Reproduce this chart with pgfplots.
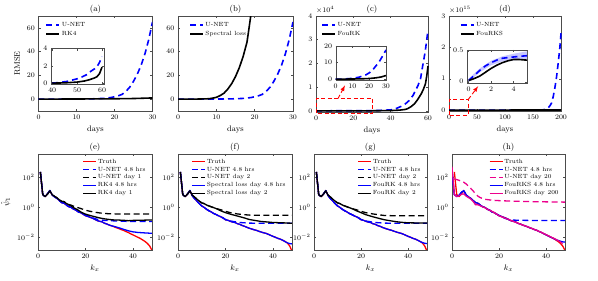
\documentclass[border=0pt]{standalone}
\usepackage{pgfplots}
\pgfplotsset{compat=1.18}
\pgfplotsset{legend image code/.code={\draw[#1] (0pt,0pt) -- (13pt,0pt);}}
\tikzset{rdash/.style={red, line width=0.9pt, dash pattern=on 4pt off 2.5pt}}
\pgfplotsset{
  base/.style={
    scale only axis, anchor=south west, no markers,
    axis line style={black!70, line width=0.4pt},
    tick style={black!70, line width=0.4pt},
    major tick length=2.2pt,
    tick align=inside,
    ticklabel style={font=\fontsize{7.5}{8}\selectfont},
    label style={font=\fontsize{8}{9}\selectfont},
    title style={font=\fontsize{8.5}{9}\selectfont, at={(0.5,1)}, anchor=south, yshift=-4pt, inner sep=0pt},
    legend cell align=left,
    scaled ticks=false,
    every axis plot/.append style={line join=round},
  },
  tleg/.style={legend style={at={(#1,1)}, anchor=north west, yshift=-2.5pt, draw=none, fill=none,
      font=\fontsize{6}{6}\selectfont, row sep=0pt,
      nodes={inner sep=1.6pt, text height=4.3pt, text depth=1.2pt}}},
  bleg/.style={legend style={at={(1,1)}, anchor=north east, xshift=-2pt, yshift=-1.5pt, draw=none, fill=none,
      font=\fontsize{6}{6}\selectfont, row sep=0pt,
      nodes={inner sep=1.2pt, text height=4.3pt, text depth=1.2pt}}},
  inset/.style={base, axis background/.style={fill=white}},
  topax/.style={base, width=#1pt, height=95pt, xlabel={days}},
  specax/.style={base, xmin=0, xmax=48, ymin=1.5e-3, ymax=3.5e3,
      xtick={0,20,40}, ytick={1e-2,1,1e2}, yminorticks=false,
      width=114pt, height=96pt, xlabel={$k_x$}, bleg},
  tun/.style={blue, line width=1.6pt, dash pattern=on 6pt off 4pt},
  tbk/.style={black, line width=1.6pt},
  str/.style={red, line width=1.3pt},
  sund/.style={blue, line width=1.3pt, dash pattern=on 6pt off 3.5pt},
  sbkd/.style={black, line width=1.3pt, dash pattern=on 6pt off 3.5pt},
  sbl/.style={blue, line width=1.3pt},
  sbk/.style={black, line width=1.3pt},
  smgd/.style={magenta, line width=1.3pt, dash pattern=on 6pt off 3.5pt},
  smg/.style={magenta, line width=1.3pt},
}
\begin{document}
\begin{tikzpicture}
\path[use as bounding box] (0pt,0pt) rectangle (598pt,281pt);

% ---------------- (a)
\begin{axis}[topax=114, at={(38.5pt,170pt)}, title={(a)}, ylabel={RMSE},
  xmin=0, xmax=30, ymin=-10, ymax=70, xtick={0,10,20,30}, ytick={0,20,40,60}, tleg=0.035]
\addplot[tun] coordinates {(0,0)(5,0)(10,0.05)(15,0.3)(17,0.6)(19,1.3)(20,2)(21,2.8)(22,4)(23,6.5)(24,10)(25,15)(26,21)(27,28.5)(28,38)(29,50)(30,65)};
\addlegendentry{U-NET}
\addplot[tbk] coordinates {(0,0)(10,0.1)(20,0.3)(25,0.5)(30,1.0)};
\addlegendentry{RK4}
\end{axis}
\begin{axis}[inset, at={(51pt,197pt)}, width=53.5pt, height=35.5pt,
  xmin=39.5, xmax=61, ymin=-0.1, ymax=4, xtick={40,50,60}, ytick={0,2,4}]
\addplot[tun] coordinates {(40,0)(43,0.08)(46,0.2)(48,0.35)(50,0.5)(52,0.72)(54,1.0)(55.3,1.33)(57,1.65)(58,1.9)(59,2.4)(60,3.05)};
\addplot[tbk] coordinates {(40,0)(45,0.03)(50,0.12)(53,0.25)(55,0.4)(57,0.6)(58,0.75)(59,1.1)(60,1.85)};
\node[anchor=south west, inner sep=0pt, font=\fontsize{7}{8}\selectfont] at (rel axis cs:0,1) [yshift=1.5pt] {$\times10^{4}$};
\end{axis}

% ---------------- (b)
\begin{axis}[topax=115, at={(178pt,170pt)}, title={(b)},
  xmin=0, xmax=30, ymin=-10, ymax=70, xtick={0,10,20,30}, ytick={0,20,40,60}, tleg=0.07]
\addplot[tun] coordinates {(0,0)(5,0)(10,0.05)(15,0.3)(17,0.6)(19,1.3)(20,2)(21,2.8)(22,4)(23,6.5)(24,10)(25,15)(26,21)(27,28.5)(28,38)(29,50)(30,65)};
\addlegendentry{U-NET}
\addplot[tbk] coordinates {(0,0)(5,0.05)(8,0.3)(9,0.8)(10,1.5)(11,3)(12,5)(13,8.5)(14,13)(15,19)(16,26.5)(17,36)(18,48)(18.8,66)(19.4,80)};
\addlegendentry{Spectral loss}
\end{axis}

% ---------------- (c)
\begin{axis}[topax=112, at={(316pt,169pt)}, height=96pt, title={(c)}, clip=false,
  xmin=0, xmax=60, ymin=-0.05, ymax=4, xtick={0,20,40,60}, ytick={0,1,2,3,4}, tleg=0.02]
\addplot[tun] coordinates {(0,0)(30,0.002)(40,0.04)(43,0.1)(46,0.2)(48,0.3)(50,0.44)(52,0.65)(54.6,1.06)(56,1.35)(57.3,1.96)(58.5,2.5)(60,3.4)};
\addlegendentry{U-NET}
\addplot[tbk] coordinates {(0,0)(30,0.0002)(40,0.01)(45,0.03)(48,0.06)(49.3,0.1)(51,0.18)(52.8,0.3)(54.5,0.48)(56.4,0.72)(57.5,0.9)(58.6,1.13)(59.3,1.45)(60,1.89)};
\addlegendentry{FouRK}
\draw[rdash] (axis cs:0.3,-0.1) rectangle (axis cs:30.5,0.52);
\draw[rdash,-latex] (axis cs:11.8,0.52) -- (axis cs:15.5,1.07);
\node[anchor=south west, inner sep=0pt, font=\fontsize{7}{8}\selectfont] at (rel axis cs:0,1) [yshift=2pt] {$\times10^{4}$};
\end{axis}
\begin{axis}[inset, at={(335.7pt,201pt)}, width=50.3pt, height=34pt,
  xmin=0, xmax=30, ymin=-0.5, ymax=20, xtick={0,10,20,30}, ytick={0,10,20}]
\addplot[tun] coordinates {(0,0)(5,0.1)(10,0.5)(14,1.2)(18,2.6)(20,3.8)(22,5.5)(24,8)(26,10.6)(28,14)(30,17.6)};
\addplot[tbk] coordinates {(0,0)(10,0.1)(15,0.2)(20,0.4)(24,0.8)(27,1.3)(30,2.2)};
\end{axis}

% ---------------- (d)
\begin{axis}[topax=112, at={(449pt,170pt)}, title={(d)}, clip=false,
  xmin=0, xmax=200, ymin=-0.03, ymax=3, xtick={0,50,100,150,200}, ytick={0,1,2,3}, tleg=0.07]
\addplot[tun] coordinates {(0,0)(100,0)(165,0)(172,0.02)(177,0.07)(180,0.13)(183,0.22)(186,0.42)(189,0.7)(192,1.05)(195,1.5)(198,2.0)(200,2.45)};
\addlegendentry{U-NET}
\addplot[tbk] coordinates {(0,0)(100,0)(200,0.002)};
\addlegendentry{FouRKS}
\draw[rdash] (axis cs:0.5,-0.16) rectangle (axis cs:34.5,0.34);
\draw[rdash,-latex] (axis cs:34.5,0.34) -- (axis cs:52,0.76);
\node[anchor=south west, inner sep=0pt, font=\fontsize{7}{8}\selectfont] at (rel axis cs:0,1) [yshift=2pt] {$\times10^{15}$};
\end{axis}
\begin{axis}[inset, at={(467pt,198pt)}, width=60pt, height=33pt,
  xmin=-0.15, xmax=5.2, ymin=-0.02, ymax=0.5, xtick={0,2,4}, ytick={0,0.5}]
\addplot[fill=blue!22, draw=none] coordinates {(0,0.05)(1,0.21)(2,0.33)(3,0.4)(4,0.44)(5.2,0.48)(5.2,0.35)(4,0.34)(3,0.32)(2,0.26)(1,0.15)(0,0.0)} --cycle;
\addplot[tun] coordinates {(0,0.02)(0.5,0.1)(1,0.18)(1.5,0.25)(2,0.3)(2.5,0.34)(3,0.37)(3.5,0.38)(4,0.39)(4.5,0.4)(5.2,0.41)};
\addplot[tbk] coordinates {(0,0.02)(0.5,0.05)(1,0.09)(1.5,0.15)(2,0.21)(2.5,0.26)(3,0.3)(3.5,0.33)(4,0.35)(4.5,0.35)(5.2,0.34)};
\end{axis}

% ---------------- (e)
\begin{semilogyaxis}[specax, at={(38pt,31pt)}, title={(e)}, ylabel={$\hat{\psi}_1$}]
\addplot[str] coordinates {(1,224)(2,7.08)(3,5.25)(4,7.94)(5,13.2)(6,6.61)(7,5.01)(8,3.98)(9,2.82)(10,2.09)(11,1.91)(12,1.41)(13,1.12)(14,1.0)(15,0.759)(16,0.661)(17,0.501)(18,0.447)(19,0.355)(20,0.282)(21,0.251)(22,0.22)(23,0.191)(24,0.158)(25,0.132)(26,0.120)(27,0.11)(28,0.0891)(29,0.0794)(30,0.0676)(31,0.0603)(32,0.0525)(33,0.0447)(34,0.0398)(35,0.0339)(36,0.0302)(37,0.0251)(38,0.0219)(39,0.0178)(40,0.0151)(41,0.0126)(42,0.0105)(43,0.00891)(44,0.00708)(45,0.00562)(46,0.00417)(47,0.00282)(48,0.00141)};
\addlegendentry{Truth}
\addplot[sund] coordinates {(1,224)(2,7.08)(3,5.25)(4,7.94)(5,13.2)(6,6.61)(7,5.01)(8,3.98)(9,2.82)(10,2.09)(11,1.91)(12,1.41)(13,1.12)(14,1.0)(15,0.759)(16,0.661)(17,0.501)(18,0.447)(20,0.316)(22,0.24)(24,0.178)(26,0.151)(28,0.138)(30,0.132)(33,0.126)(36,0.12)(40,0.117)(44,0.117)(48,0.117)};
\addlegendentry{U-NET 4.8 hrs}
\addplot[sbkd] coordinates {(1,224)(2,7.08)(3,5.25)(4,7.6)(5,12.6)(6,6.9)(7,5.4)(8,4.3)(9,3.2)(10,2.5)(11,2.4)(12,1.8)(13,1.55)(14,1.4)(15,1.2)(16,1.05)(17,0.95)(18,0.85)(20,0.65)(22,0.55)(24,0.48)(26,0.43)(28,0.4)(30,0.38)(33,0.37)(36,0.37)(40,0.37)(44,0.37)(48,0.37)};
\addlegendentry{U-NET day 1}
\addplot[sbl] coordinates {(1,224)(2,7.08)(3,5.25)(4,7.94)(5,13.2)(6,6.61)(7,5.01)(8,3.98)(9,2.82)(10,2.09)(11,1.91)(12,1.41)(13,1.12)(14,1.0)(15,0.759)(16,0.661)(17,0.501)(18,0.447)(19,0.355)(20,0.282)(21,0.251)(22,0.22)(23,0.191)(24,0.158)(25,0.132)(26,0.120)(27,0.11)(28,0.0891)(29,0.0794)(30,0.0676)(31,0.0603)(32,0.055)(33,0.05)(34,0.0447)(35,0.04)(36,0.0355)(37,0.0316)(38,0.0282)(39,0.026)(40,0.024)(41,0.023)(42,0.0219)(43,0.0214)(44,0.0209)(45,0.0204)(46,0.02)(47,0.0195)(48,0.0191)};
\addlegendentry{RK4 4.8 hrs}
\addplot[sbk] coordinates {(1,224)(2,7.08)(3,5.25)(4,7.6)(5,12.6)(6,6.9)(7,5.4)(8,4.3)(9,3.2)(10,2.5)(11,2.4)(12,1.8)(13,1.5)(14,1.25)(15,0.95)(16,0.8)(17,0.65)(18,0.5)(19,0.42)(20,0.36)(22,0.29)(24,0.24)(26,0.2)(28,0.175)(30,0.158)(32,0.148)(34,0.145)(36,0.14)(38,0.132)(40,0.138)(42,0.14)(44,0.142)(46,0.145)(48,0.145)};
\addlegendentry{RK4 day 1}
\end{semilogyaxis}

% ---------------- (f)
\begin{semilogyaxis}[specax, at={(178pt,31pt)}, title={(f)}]
\addplot[str] coordinates {(1,224)(2,7.08)(3,5.25)(4,7.59)(5,13.2)(6,6.03)(7,3.80)(8,2.63)(9,1.78)(10,1.26)(11,1.0)(12,0.759)(13,0.603)(14,0.501)(15,0.398)(16,0.339)(17,0.282)(18,0.240)(19,0.200)(20,0.151)(21,0.141)(22,0.120)(23,0.107)(24,0.1)(25,0.0832)(26,0.0759)(27,0.0631)(28,0.0562)(29,0.0479)(30,0.0417)(31,0.0372)(32,0.0331)(33,0.0302)(34,0.0263)(35,0.0234)(36,0.0209)(37,0.0191)(38,0.0166)(39,0.0141)(40,0.0120)(41,0.0105)(42,0.00891)(43,0.00794)(44,0.00676)(45,0.00562)(46,0.00447)(47,0.00282)(48,0.00126)};
\addlegendentry{Truth}
\addplot[sund] coordinates {(1,224)(2,7.08)(3,5.25)(4,7.59)(5,13.2)(6,6.03)(7,3.80)(8,2.63)(9,1.78)(10,1.26)(11,1.0)(12,0.759)(13,0.603)(14,0.501)(15,0.398)(16,0.339)(17,0.282)(18,0.240)(19,0.2)(20,0.16)(22,0.126)(24,0.112)(26,0.1)(28,0.0955)(30,0.0912)(34,0.0891)(38,0.0891)(42,0.0891)(46,0.0891)(48,0.0891)};
\addlegendentry{U-NET 4.8 hrs}
\addplot[sbkd] coordinates {(1,224)(2,7.08)(3,5.25)(4,7.6)(5,12.6)(6,6.5)(7,4.8)(8,3.5)(9,2.6)(10,2.0)(11,1.8)(12,1.45)(14,1.1)(16,0.85)(18,0.7)(20,0.55)(22,0.45)(25,0.37)(28,0.33)(30,0.31)(35,0.302)(40,0.302)(45,0.302)(48,0.302)};
\addlegendentry{U-NET day 2}
\addplot[sbl] coordinates {(1,224)(2,7.08)(3,5.25)(4,7.59)(5,13.2)(6,6.03)(7,3.80)(8,2.63)(9,1.78)(10,1.26)(11,1.0)(12,0.759)(13,0.603)(14,0.501)(15,0.398)(16,0.339)(17,0.282)(18,0.240)(19,0.200)(20,0.151)(21,0.141)(22,0.120)(23,0.107)(24,0.1)(25,0.0832)(26,0.0759)(27,0.0631)(28,0.0562)(29,0.0479)(30,0.0417)(31,0.0372)(32,0.0331)(33,0.0302)(34,0.0263)(35,0.0234)(36,0.0209)(37,0.0191)(38,0.0166)(39,0.0141)(40,0.0120)(41,0.0105)(42,0.00891)(43,0.00794)(44,0.00676)(45,0.0055)(46,0.0045)(47,0.004)(48,0.0038)};
\addlegendentry{Spectral loss day 4.8 hrs}
\addplot[sbk] coordinates {(1,224)(2,7.08)(3,5.25)(4,7.6)(5,12.6)(6,6.5)(7,4.8)(8,3.5)(9,2.6)(10,2.0)(11,1.8)(12,1.45)(14,1.1)(16,0.85)(18,0.6)(20,0.45)(22,0.36)(25,0.269)(28,0.2)(30,0.158)(33,0.132)(35,0.117)(38,0.107)(40,0.1)(44,0.0955)(48,0.0891)};
\addlegendentry{Spectral loss day 2}
\end{semilogyaxis}

% ---------------- (g)
\begin{semilogyaxis}[specax, at={(314pt,31pt)}, width=113pt, title={(g)}]
\addplot[str] coordinates {(1,224)(2,7.08)(3,5.25)(4,7.59)(5,13.2)(6,6.03)(7,3.80)(8,2.63)(9,1.78)(10,1.26)(11,1.0)(12,0.759)(13,0.603)(14,0.501)(15,0.398)(16,0.339)(17,0.282)(18,0.240)(19,0.200)(20,0.151)(21,0.141)(22,0.120)(23,0.107)(24,0.1)(25,0.0832)(26,0.0759)(27,0.0631)(28,0.0562)(29,0.0479)(30,0.0417)(31,0.0372)(32,0.0331)(33,0.0302)(34,0.0263)(35,0.0234)(36,0.0209)(37,0.0191)(38,0.0166)(39,0.0141)(40,0.0120)(41,0.0105)(42,0.00891)(43,0.00794)(44,0.00676)(45,0.00562)(46,0.00447)(47,0.00282)(48,0.00126)};
\addlegendentry{Truth}
\addplot[sund] coordinates {(1,224)(2,7.08)(3,5.25)(4,7.59)(5,13.2)(6,6.03)(7,3.80)(8,2.63)(9,1.78)(10,1.26)(11,1.0)(12,0.759)(13,0.603)(14,0.501)(15,0.398)(16,0.339)(17,0.282)(18,0.240)(19,0.2)(20,0.16)(22,0.126)(24,0.112)(26,0.1)(28,0.0955)(30,0.0912)(34,0.0891)(38,0.0891)(42,0.0891)(46,0.0891)(48,0.0891)};
\addlegendentry{U-NET 4.8 hrs}
\addplot[sbkd] coordinates {(1,224)(2,7.08)(3,5.25)(4,7.6)(5,12.6)(6,6.5)(7,4.8)(8,3.5)(9,2.6)(10,2.0)(11,1.8)(12,1.45)(14,1.1)(16,0.85)(18,0.7)(20,0.55)(22,0.45)(25,0.37)(28,0.32)(30,0.29)(35,0.28)(40,0.28)(45,0.28)(48,0.28)};
\addlegendentry{U-NET day 2}
\addplot[sbl] coordinates {(1,224)(2,7.08)(3,5.25)(4,7.59)(5,13.2)(6,6.03)(7,3.80)(8,2.63)(9,1.78)(10,1.26)(11,1.0)(12,0.759)(13,0.603)(14,0.501)(15,0.398)(16,0.339)(17,0.282)(18,0.240)(19,0.200)(20,0.151)(21,0.141)(22,0.120)(23,0.107)(24,0.1)(25,0.0832)(26,0.0759)(27,0.0631)(28,0.0562)(29,0.0479)(30,0.0417)(31,0.0372)(32,0.0331)(33,0.0302)(34,0.0263)(35,0.0234)(36,0.0209)(37,0.0191)(38,0.0166)(39,0.0141)(40,0.0120)(41,0.0105)(42,0.00891)(43,0.00794)(44,0.00676)(45,0.0055)(46,0.0047)(47,0.0042)(48,0.004)};
\addlegendentry{FouRK 4.8 hrs}
\addplot[sbk] coordinates {(1,224)(2,7.08)(3,5.25)(4,7.6)(5,12.6)(6,6.5)(7,4.8)(8,3.5)(9,2.6)(10,2.0)(11,1.8)(12,1.45)(14,1.1)(16,0.85)(18,0.6)(20,0.45)(22,0.33)(25,0.24)(28,0.18)(30,0.151)(33,0.126)(35,0.112)(38,0.1)(40,0.0955)(44,0.0933)(48,0.0933)};
\addlegendentry{FouRK day 2}
\end{semilogyaxis}

% ---------------- (h)
\begin{semilogyaxis}[specax, at={(452pt,31pt)}, width=113pt, title={(h)}]
\addplot[str] coordinates {(1,224)(2,7.08)(3,5.25)(4,7.94)(5,13.2)(6,6.61)(7,5.01)(8,3.98)(9,2.82)(10,2.09)(11,1.91)(12,1.41)(13,1.12)(14,1.0)(15,0.759)(16,0.661)(17,0.501)(18,0.447)(19,0.355)(20,0.282)(21,0.251)(22,0.22)(23,0.191)(24,0.158)(25,0.132)(26,0.120)(27,0.11)(28,0.0891)(29,0.0794)(30,0.0676)(31,0.0603)(32,0.0525)(33,0.0447)(34,0.0398)(35,0.0339)(36,0.0302)(37,0.0251)(38,0.0219)(39,0.0178)(40,0.0151)(41,0.0126)(42,0.0105)(43,0.00891)(44,0.00708)(45,0.00562)(46,0.00417)(47,0.00282)(48,0.00141)};
\addlegendentry{Truth}
\addplot[sund] coordinates {(0,251)(1,7.08)(2,5.25)(3,6.3)(4,10)(5,13.2)(6,6.61)(7,5.01)(8,3.98)(9,2.82)(10,2.09)(11,1.91)(12,1.41)(13,1.12)(14,1.0)(15,0.759)(16,0.661)(17,0.501)(18,0.447)(19,0.355)(20,0.3)(22,0.2)(24,0.16)(26,0.145)(28,0.141)(32,0.138)(36,0.135)(40,0.135)(44,0.135)(48,0.135)};
\addlegendentry{U-NET 4.8 hrs}
\addplot[smgd] coordinates {(1,79)(2,70)(3,63)(4,55)(5,47)(6,36)(7,26)(8,18)(9,12.3)(10,7.9)(11,5.6)(12,4.47)(14,3.47)(17,3.0)(20,2.82)(25,2.63)(30,2.51)(35,2.4)(40,2.34)(45,2.29)(48,2.24)};
\addlegendentry{U-NET day 20}
\addplot[sbl] coordinates {(0,316)(1,7.08)(2,5.25)(3,6.3)(4,10)(5,13.2)(6,6.61)(7,5.01)(8,3.98)(9,2.82)(10,2.09)(11,1.91)(12,1.41)(13,1.12)(14,1.0)(15,0.759)(16,0.661)(17,0.501)(18,0.447)(19,0.355)(20,0.282)(21,0.251)(22,0.22)(23,0.191)(24,0.158)(25,0.132)(26,0.120)(27,0.11)(28,0.0891)(29,0.0794)(30,0.0676)(31,0.0603)(32,0.0525)(33,0.0447)(34,0.0398)(35,0.0339)(36,0.0302)(37,0.0251)(38,0.0219)(39,0.0178)(40,0.0151)(41,0.0126)(42,0.0105)(43,0.00891)(44,0.0075)(45,0.0065)(46,0.0058)(47,0.0052)(48,0.005)};
\addlegendentry{FouRKS 4.8 hrs}
\addplot[smg] coordinates {(0,500)(1,7.0)(2,5.3)(3,5.8)(4,7.5)(5,7.9)(6,5.6)(7,4.5)(8,3.6)(9,2.5)(10,1.5)(11,1.5)(12,1.3)(13,1.1)(14,0.95)(15,0.75)(16,0.65)(18,0.45)(20,0.28)(22,0.21)(24,0.16)(26,0.12)(28,0.09)(30,0.068)(32,0.053)(34,0.04)(36,0.03)(38,0.022)(40,0.0155)(42,0.011)(44,0.0078)(46,0.0052)(47,0.004)};
\addlegendentry{FouRKS day 200}
\end{semilogyaxis}
\end{tikzpicture}
\end{document}
